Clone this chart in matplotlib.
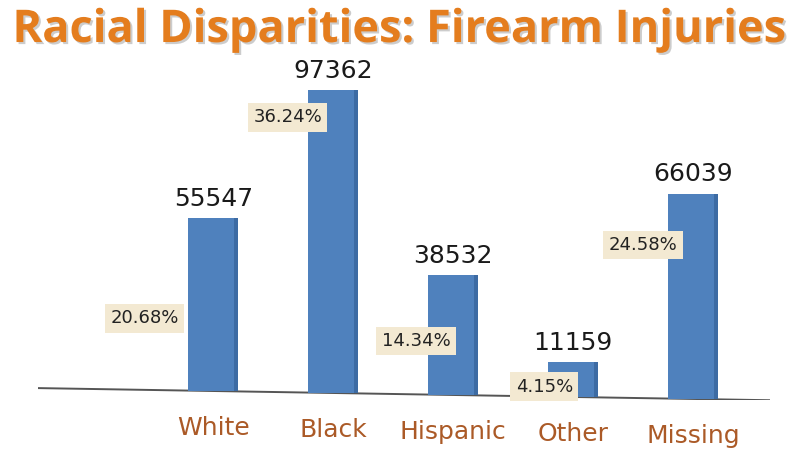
import numpy as np
import matplotlib
matplotlib.use('Agg')
import matplotlib.pyplot as plt
import matplotlib.patheffects as pe

categories = ['White', 'Black', 'Hispanic', 'Other', 'Missing']
counts = [55547, 97362, 38532, 11159, 66039]
percents = ['20.68%', '36.24%', '14.34%', '4.15%', '24.58%']

# label placement (styling only)
pct_dx = [-0.57, -0.38, -0.31, -0.24, -0.42]     # offset from bar centre, in bar spacings
pct_frac = [0.42, 0.91, 0.45, 0.29, 0.75]        # height of box as fraction of bar
tilt = 640                                        # baseline drop per bar (perspective look)

bar_col = '#4f81bd'
side_col = '#3d6ba3'
cat_col = '#ab5a27'
box_col = '#f3e9d2'

fig = plt.figure(figsize=(7.99, 4.49), dpi=100)
ax = fig.add_axes([38 / 799, 49 / 449, 732 / 799, 340 / 449])

x = np.arange(len(categories))
base = -tilt * x
w = 0.42
ax.bar(x, counts, width=w, bottom=base, color=side_col, zorder=2)
ax.bar(x - 0.02, counts, width=w - 0.04, bottom=base, color=bar_col, zorder=3)

ax.set_xlim(-1.46, 4.64)
ax.set_ylim(-2894, 106431)

# slanted floor line
ax.plot([-1.46, 4.64], [tilt * 1.46, -tilt * 4.64], color='#555555', lw=1.4, zorder=1)

for i in range(len(categories)):
    top = base[i] + counts[i]
    ax.annotate(str(counts[i]), (x[i], top), xytext=(0, 9), textcoords='offset points',
                ha='center', va='baseline', fontsize=18, color='#1a1a1a')
    ax.text(x[i] + pct_dx[i], base[i] + pct_frac[i] * counts[i], percents[i],
            ha='center', va='center', fontsize=13, color='#222222', zorder=4,
            bbox=dict(boxstyle='square,pad=0.3', fc=box_col, ec='none'))
    ax.annotate(categories[i], (x[i], base[i]), xytext=(0, -27), textcoords='offset points',
                ha='center', va='center', fontsize=18, color=cat_col)

ax.axis('off')

fig.text(0.5, 0.932, 'Racial Disparities: Firearm Injuries', ha='center', va='center',
         fontsize=32.5, fontweight='bold', family=['Open Sans', 'DejaVu Sans'], color='#e47d1e',
         path_effects=[pe.withSimplePatchShadow(offset=(1.5, -1.5), shadow_rgbFace='#9a9a9a', alpha=0.5)])

plt.savefig('out.png', dpi=100)
